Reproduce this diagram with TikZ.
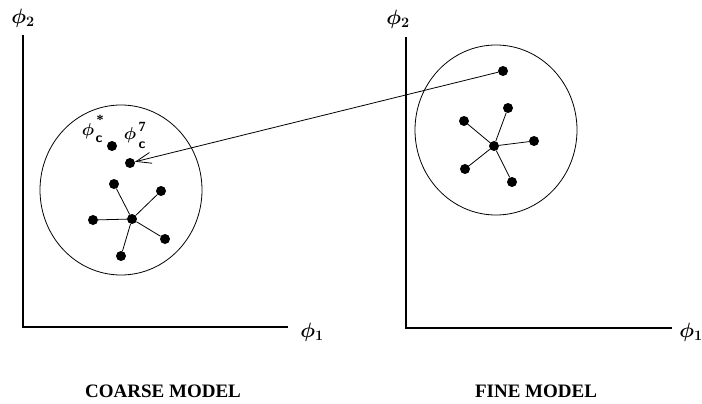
\documentclass[tikz,border=0pt]{standalone}
\usepackage{fontspec}
\usepackage{bm}
\setmainfont{Liberation Serif}
\usetikzlibrary{arrows.meta}
\begin{document}
\begin{tikzpicture}[x=1pt,y=-1pt,
  dot/.style={circle,fill=black,inner sep=0pt,minimum size=10pt},
  axis/.style={line width=1.4pt},
  link/.style={line width=0.8pt},
  ring/.style={line width=0.8pt},
  axlabel/.style={font=\fontsize{21}{23}\selectfont,inner sep=0pt},
  philabel/.style={font=\fontsize{18}{20}\selectfont,inner sep=0pt},
  idxlabel/.style={font=\fontsize{14}{14}\selectfont\bfseries\sffamily,inner sep=0pt},
  suplabel/.style={font=\fontsize{14}{14}\selectfont\bfseries,inner sep=0pt},
  title/.style={font=\fontsize{19}{21}\selectfont\bfseries,inner sep=0pt}]
\useasboundingbox (0,0) rectangle (702,404);
% left panel axes
\coordinate (lo) at (23,327);
\coordinate (ly) at (23,35);
\coordinate (lx) at (288,327);
\draw[axis] (ly) -- (lo) -- (lx);
\node[axlabel] (lphi2) at (23,18) {$\bm{\phi}_{\bm 2}$};
\node[axlabel] (lphi1) at (312,332) {$\bm{\phi}_{\bm 1}$};
% right panel axes
\coordinate (ro) at (406,328);
\coordinate (ry) at (406,37);
\coordinate (rx) at (672,328);
\draw[axis] (ry) -- (ro) -- (rx);
\node[axlabel] (rphi2) at (398,19) {$\bm{\phi}_{\bm 2}$};
\node[axlabel] (rphi1) at (691,332) {$\bm{\phi}_{\bm 1}$};
% circles
\draw[ring] (121,190) ellipse [x radius=81, y radius=85];
\draw[ring] (496,130) ellipse [x radius=81, y radius=85];
% left points
\node[dot] (cs) at (112,146) {};
\node[dot] (c7) at (130,163) {};
\node[dot] (lc) at (132,219) {};
\node[dot] (l1) at (114,184) {};
\node[dot] (l2) at (161,191) {};
\node[dot] (l3) at (93,220) {};
\node[dot] (l4) at (165,239) {};
\node[dot] (l5) at (121,256) {};
\foreach \n in {l1,l2,l3,l4,l5} \draw[link] (lc) -- (\n);
% point labels
\node[philabel] (lcsphi) at (88,131) {$\bm{\phi}$};
\node[idxlabel] (lcssub) at (99,139) {c};
\node[suplabel] (lcssup) at (100,120) {*};
\node[philabel] (lc7phi) at (130,135) {$\bm{\phi}$};
\node[idxlabel] (lc7sub) at (142,145) {c};
\node[suplabel] (lc7sup) at (142,127) {7};
% right points
\node[dot] (r0) at (503,71) {};
\node[dot] (rc) at (494,146) {};
\node[dot] (r1) at (508,108) {};
\node[dot] (r2) at (464,121) {};
\node[dot] (r3) at (534,141) {};
\node[dot] (r4) at (465,169) {};
\node[dot] (r5) at (512,182) {};
\foreach \n in {r1,r2,r3,r4,r5} \draw[link] (rc) -- (\n);
% arrow
\draw[link,-{Straight Barb[length=15pt,width=11pt,line width=0.8pt]}] (r0) -- (c7);
% titles
\node[title] (tc) at (163,391) {COARSE MODEL};
\node[title] (tf) at (536,391) {FINE MODEL};
\end{tikzpicture}
\end{document}
